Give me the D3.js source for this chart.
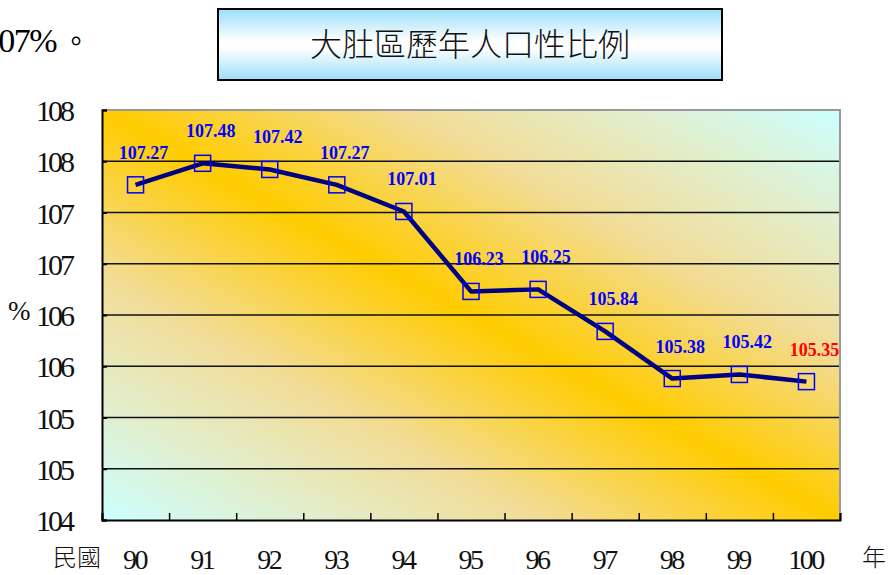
<!DOCTYPE html>
<html>
<head>
<meta charset="utf-8">
<script src="https://cdn.jsdelivr.net/npm/d3@7"></script>
<style>
  html, body { margin: 0; padding: 0; background: #fff; }
  svg { display: block; }
</style>
</head>
<body>
<svg id="chart" width="890" height="575"></svg>
<script>
// data
const years = ['90', '91', '92', '93', '94', '95', '96', '97', '98', '99', '100'];
const sexRatio = [107.27, 107.48, 107.42, 107.27, 107.01, 106.23, 106.25, 105.84, 105.38, 105.42, 105.35];
const yTickValues = [104, 104.5, 105, 105.5, 106, 106.5, 107, 107.5, 108];
const yTickLabels = ['104', '105', '105', '106', '106', '107', '107', '108', '108'];

const serif = '"Liberation Serif", "Times New Roman", serif';
const cjk = '"Noto Sans CJK TC", "Noto Sans CJK SC", sans-serif';

const svg = d3.select('#chart');
const defs = svg.append('defs');

const margin = { top: 110, right: 50, bottom: 55, left: 102 };
const width = 890, height = 575;
const innerWidth = width - margin.left - margin.right;
const innerHeight = height - margin.top - margin.bottom;

// plot area gradient: gold along the top-left / bottom-right diagonal
const plotGrad = defs.append('linearGradient')
  .attr('id', 'plotGrad')
  .attr('x1', 0).attr('y1', 1).attr('x2', 1).attr('y2', 0);
[[0, '#ccffff'], [0.15, '#e2eecb'], [0.3, '#f2dc96'], [0.5, '#ffcc00'],
 [0.7, '#f2dc96'], [0.85, '#e2eecb'], [1, '#ccffff']].forEach(([o, c]) => {
  plotGrad.append('stop').attr('offset', o).attr('stop-color', c);
});

const titleGrad = defs.append('linearGradient')
  .attr('id', 'titleGrad')
  .attr('x1', 0).attr('y1', 0).attr('x2', 0).attr('y2', 1);
[[0, '#99defa'], [0.45, '#ffffff'], [0.55, '#ffffff'], [1, '#99defa']].forEach(([o, c]) => {
  titleGrad.append('stop').attr('offset', o).attr('stop-color', c);
});

// fragment of text above the chart
svg.append('text')
  .attr('x', 56).attr('y', 52)
  .attr('text-anchor', 'end')
  .attr('font-family', serif)
  .attr('font-size', 34)
  .attr('letter-spacing', -1.5)
  .text('107%');
svg.append('text')
  .attr('x', 62).attr('y', 52)
  .attr('font-family', cjk)
  .attr('font-size', 28)
  .text('。');

// title box
svg.append('rect')
  .attr('x', 218).attr('y', 9)
  .attr('width', 504).attr('height', 71)
  .attr('fill', 'url(#titleGrad)')
  .attr('stroke', '#000')
  .attr('stroke-width', 2);
svg.append('text')
  .attr('x', 470).attr('y', 56)
  .attr('text-anchor', 'middle')
  .attr('font-family', cjk)
  .attr('font-weight', 300)
  .attr('font-size', 32)
  .attr('fill', '#111')
  .text('大肚區歷年人口性比例');

const grp = svg.append('g')
  .attr('transform', 'translate(' + margin.left + ',' + margin.top + ')');

const xScale = d3.scaleBand().domain(years).range([0, innerWidth]).padding(0);
const yScale = d3.scaleLinear().domain([104, 108]).range([innerHeight, 0]);

grp.append('rect')
  .attr('width', innerWidth)
  .attr('height', innerHeight)
  .attr('fill', 'url(#plotGrad)');

// gridlines
grp.selectAll('.grid')
  .data(yTickValues.slice(1, -1))
  .enter()
  .append('line')
  .attr('x1', 0).attr('x2', innerWidth)
  .attr('y1', (d) => yScale(d)).attr('y2', (d) => yScale(d))
  .attr('stroke', '#111')
  .attr('stroke-width', 1.5);

// plot border: top and right grey
grp.append('path')
  .attr('d', 'M0,0H' + innerWidth + 'V' + innerHeight)
  .attr('fill', 'none')
  .attr('stroke', '#999')
  .attr('stroke-width', 2);

// y axis
const yAxis = grp.append('g')
  .call(d3.axisRight(yScale).tickValues(yTickValues).tickSize(5));
yAxis.selectAll('.tick text').remove();
yAxis.select('.domain').attr('stroke', '#000').attr('stroke-width', 2);
yAxis.selectAll('.tick line').attr('stroke', '#000').attr('stroke-width', 2);

// x axis: ticks on band boundaries pointing up
const xAxis = grp.append('g')
  .attr('transform', 'translate(0,' + innerHeight + ')')
  .call(d3.axisTop(d3.scaleLinear().domain([0, years.length]).range([0, innerWidth]))
    .ticks(years.length).tickSize(7));
xAxis.selectAll('.tick text').remove();
xAxis.select('.domain').attr('stroke', '#000').attr('stroke-width', 2);
xAxis.selectAll('.tick line').attr('stroke', '#000').attr('stroke-width', 1.5);

// y tick labels (tall, narrow serif digits)
svg.selectAll('.ylab')
  .data(yTickValues)
  .enter()
  .append('text')
  .attr('class', 'ylab')
  .attr('x', margin.left - 30)
  .attr('y', (d) => margin.top + yScale(d) + 11)
  .attr('text-anchor', 'end')
  .attr('font-family', serif)
  .attr('font-size', 30)
  .attr('letter-spacing', -3)
  .attr('fill', '#111')
  .text((d, i) => yTickLabels[i]);

// x tick labels
svg.selectAll('.xlab')
  .data(years)
  .enter()
  .append('text')
  .attr('class', 'xlab')
  .attr('x', (d) => margin.left + xScale(d) + xScale.bandwidth() / 2 - 1)
  .attr('y', 569)
  .attr('text-anchor', 'middle')
  .attr('font-family', serif)
  .attr('font-size', 28)
  .attr('letter-spacing', -2.5)
  .attr('fill', '#111')
  .text((d) => d);

// axis titles
svg.append('text')
  .attr('x', 8).attr('y', 320)
  .attr('font-family', serif)
  .attr('font-size', 27)
  .attr('fill', '#111')
  .text('%');
svg.append('text')
  .attr('x', 53).attr('y', 566)
  .attr('font-family', cjk)
  .attr('font-weight', 300)
  .attr('font-size', 24)
  .attr('fill', '#111')
  .text('民國');
svg.append('text')
  .attr('x', 862).attr('y', 566)
  .attr('font-family', cjk)
  .attr('font-weight', 300)
  .attr('font-size', 24)
  .attr('fill', '#111')
  .text('年');

// series line
const cx = (d, i) => xScale(years[i]) + xScale.bandwidth() / 2;
const line = d3.line().x(cx).y((d) => yScale(d));

grp.append('path')
  .datum(sexRatio)
  .attr('d', line)
  .attr('fill', 'none')
  .attr('stroke', '#000080')
  .attr('stroke-width', 4.5)
  .attr('stroke-linejoin', 'round');

grp.selectAll('.marker')
  .data(sexRatio)
  .enter()
  .append('rect')
  .attr('class', 'marker')
  .attr('x', (d, i) => cx(d, i) - 8)
  .attr('y', (d) => yScale(d) - 8)
  .attr('width', 16)
  .attr('height', 16)
  .attr('fill', 'none')
  .attr('stroke', '#0000ff')
  .attr('stroke-width', 1.5);

grp.selectAll('.label')
  .data(sexRatio)
  .enter()
  .append('text')
  .attr('class', 'label')
  .attr('x', (d, i) => cx(d, i) + 8)
  .attr('y', (d) => yScale(d) - 26)
  .attr('text-anchor', 'middle')
  .attr('font-family', serif)
  .attr('font-weight', 'bold')
  .attr('font-size', 18)
  .attr('fill', (d, i) => (i === sexRatio.length - 1 ? '#ff0000' : '#0000ff'))
  .text((d) => d.toFixed(2));
</script>
</body>
</html>
